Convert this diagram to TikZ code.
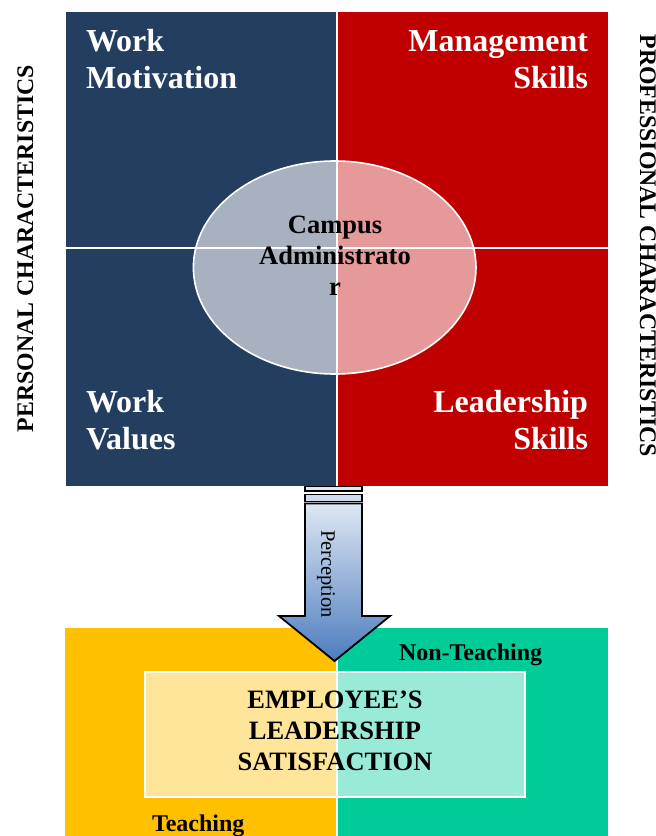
\documentclass[tikz,border=0pt]{standalone}
\usepackage{fontspec}
\setmainfont{Liberation Serif}
\begin{document}
\begin{tikzpicture}[x=1pt,y=-1pt,
  every node/.style={inner sep=0pt, outer sep=0pt},
  bigwhite/.style={text=white, font=\fontsize{32}{36.5}\selectfont\bfseries},
  centertxt/.style={text=black, font=\fontsize{26.5}{31}\selectfont\bfseries, align=center},
  sidelabel/.style={text=black, font=\fontsize{23.8}{27}\selectfont\bfseries},
  grouplabel/.style={text=black, font=\fontsize{24}{27}\selectfont\bfseries},
  divider/.style={white, line width=2.2pt},
  veil/.style={white, fill opacity=0.6}
]
\definecolor{navy}{RGB}{36,62,96}
\definecolor{crimson}{RGB}{192,0,0}
\definecolor{amber}{RGB}{255,192,0}
\definecolor{teal}{RGB}{0,204,153}
\definecolor{arrowtop}{RGB}{222,231,243}
\definecolor{arrowbot}{RGB}{76,124,190}

\useasboundingbox (0,0) rectangle (656,836);

% ---- top block: two columns of characteristics
\fill[navy] (66,12) rectangle (337,486);
\fill[crimson] (337,12) rectangle (608,486);
\fill[veil] (334.7,267.5) ellipse [x radius=141.3, y radius=106.5];
\draw[white, line width=1.6pt] (334.7,267.5) ellipse [x radius=141.3, y radius=106.5];
\draw[divider] (337,12) -- (337,486);
\draw[divider] (66,248) -- (608,248);

% multi-line nodes: the base anchor sits on the last line
\node[bigwhite, anchor=base west, align=left] (wm) at (86,88) {Work\\Motivation};
\node[bigwhite, anchor=base east, align=right] (ms) at (588,88) {Management\\Skills};
\node[bigwhite, anchor=base west, align=left] (wv) at (86,449) {Work\\Values};
\node[bigwhite, anchor=base east, align=right] (ls) at (588,449) {Leadership\\Skills};
\node[centertxt, anchor=base] (ca) at (335,295) {Campus\\Administrato\\r};

\node[sidelabel, rotate=90, anchor=base] (pc) at (33,248.5) {PERSONAL CHARACTERISTICS};
\node[sidelabel, rotate=-90, anchor=base] (prc) at (640,246) {PROFESSIONAL CHARACTERISTICS};

% ---- bottom block: employee groups
\fill[amber] (65,628) rectangle (336,836);
\fill[teal] (338,628) rectangle (608,836);
\fill[veil] (145,672) rectangle (525,797);
\draw[white, line width=2pt] (145,672) rectangle (525,797);

\node[centertxt, anchor=base] (els) at (335,770) {EMPLOYEE’S\\LEADERSHIP\\SATISFACTION};
\node[grouplabel, anchor=base west] (nt) at (399,660) {Non-Teaching};
\node[grouplabel, anchor=base west] (te) at (152,831) {Teaching};

% ---- block arrow from the top block to the bottom block
\coordinate (tip) at (334.5,661);
\draw[black, line width=1.6pt, fill=arrowtop] (305,486.5) rectangle (362,491);
\draw[black, line width=1.6pt, fill=arrowtop!90!arrowbot] (305,494.5) rectangle (362,501.5);
\draw[black, line width=1.8pt, top color=arrowtop, bottom color=arrowbot, line join=miter]
  (305,503.5) -- (362,503.5) -- (362,616) -- (390,616) -- (tip) -- (279,616) -- (305,616) -- cycle;
\node[font=\fontsize{20.5}{24}\selectfont, rotate=-90] (per) at (326,574) {Perception};
\end{tikzpicture}
\end{document}
